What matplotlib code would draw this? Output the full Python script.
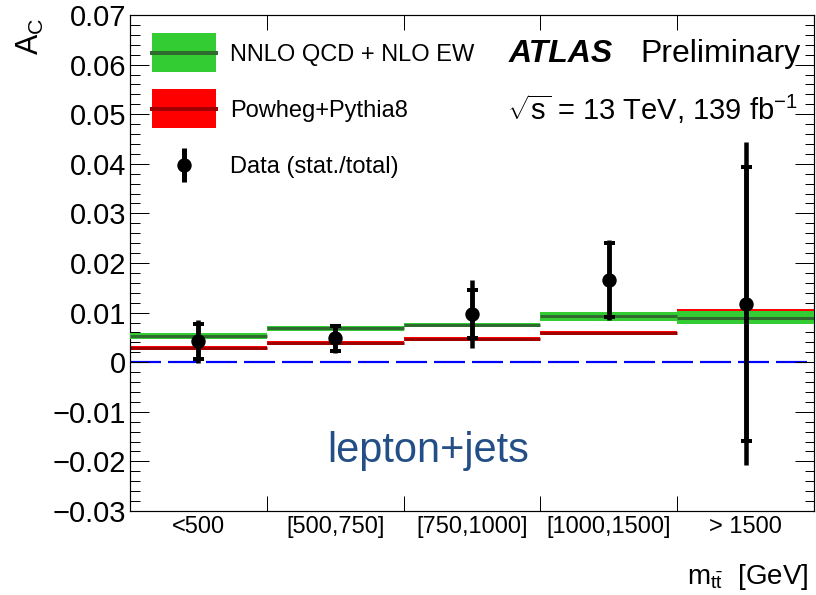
import numpy as np
import matplotlib
matplotlib.use("Agg")
import matplotlib.pyplot as plt
from matplotlib.patches import Rectangle
from matplotlib.lines import Line2D

plt.rcParams['font.family'] = ['Liberation Sans', 'DejaVu Sans']
plt.rcParams['mathtext.fontset'] = 'custom'
plt.rcParams['mathtext.rm'] = 'Liberation Sans'
plt.rcParams['mathtext.it'] = 'Liberation Sans:italic'
plt.rcParams['lines.scale_dashes'] = False

# ---- data ----
bin_labels = ["<500", "[500,750]", "[750,1000]", "[1000,1500]", "> 1500"]
nnlo_val = [0.0053, 0.0068, 0.0075, 0.0093, 0.0090]
nnlo_err = [0.0006, 0.0005, 0.0005, 0.0009, 0.0013]
powheg_val = [0.0028, 0.0038, 0.0046, 0.0058, 0.0102]
powheg_err = [0.0004, 0.0004, 0.0004, 0.0004, 0.0006]
data_val = [0.0042, 0.0048, 0.0097, 0.0166, 0.0118]
data_stat = [0.0035, 0.0025, 0.0049, 0.0074, 0.0276]
data_tot = [0.0044, 0.0030, 0.0068, 0.0080, 0.0326]
legend_labels = ["NNLO QCD + NLO EW", "Powheg+Pythia8", "Data (stat./total)"]

PX = 72.0 / 100.0  # points per pixel at dpi 100
W, H = 816, 595

fig = plt.figure(figsize=(W / 100, H / 100), dpi=100)
L, R, T, B = 130, 814, 15, 511
ax = fig.add_axes([L / W, 1 - B / H, (R - L) / W, (B - T) / H])

n = len(bin_labels)
edges = np.arange(n + 1)
centers = edges[:-1] + 0.5
nv, ne = np.array(nnlo_val), np.array(nnlo_err)
pv, pe = np.array(powheg_val), np.array(powheg_err)

green = '#33cc33'
dgreen = '#2f6b2f'
red = '#ff0000'
dred = '#a00000'

# Powheg band (below)
ax.stairs(pv + pe, edges, baseline=pv - pe, fill=True, color=red, zorder=2, lw=0)
ax.hlines(pv, edges[:-1], edges[1:], color=dred, lw=3.0 * PX, zorder=2.1)
# NNLO band
ax.stairs(nv + ne, edges, baseline=nv - ne, fill=True, color=green, zorder=3, lw=0)
ax.hlines(nv, edges[:-1], edges[1:], color=dgreen, lw=3.0 * PX, zorder=3.1)

# zero line
ax.axhline(0, color='#0000ff', lw=2.2 * PX, dashes=(31 * PX, 7 * PX), zorder=1)

# data: total (no caps) + stat (caps)
ax.errorbar(centers, data_val, yerr=data_tot, fmt='none', ecolor='black',
            elinewidth=4.5 * PX, capsize=0, zorder=5)
ax.errorbar(centers, data_val, yerr=data_stat, fmt='o', color='black',
            ms=13 * PX, elinewidth=4.5 * PX, capsize=5.5 * PX,
            capthick=4 * PX, zorder=6)

ax.set_xlim(0, n)
ax.set_ylim(-0.03, 0.07)

# ticks
ax.set_xticks(edges[1:-1])
ax.set_xticklabels([])
ax.set_xticks(centers, minor=True)
ax.set_xticklabels(bin_labels, minor=True, fontsize=17)
ax.tick_params(axis='x', which='major', direction='in', length=15 * PX, width=1 * PX,
               top=True, bottom=True)
ax.tick_params(axis='x', which='minor', length=0, pad=5 * PX)

yt = np.round(np.arange(-0.03, 0.0701, 0.01), 3)
ax.set_yticks(yt)
ax.set_yticklabels([("%.2f" % v).replace('-', '\u2212') if abs(v) > 1e-9 else "0" for v in yt],
                   fontsize=21)
ax.set_yticks(np.arange(-0.03, 0.0701, 0.002), minor=True)
ax.tick_params(axis='y', which='major', direction='in', length=19 * PX, width=1 * PX,
               left=True, right=True, pad=4 * PX)
ax.tick_params(axis='y', which='minor', direction='in', length=9.5 * PX, width=1 * PX,
               left=True, right=True)
for s in ax.spines.values():
    s.set_linewidth(1.2 * PX)

# ---- legend (drawn in figure pixel coordinates) ----
def fx(px):
    return px / W

def fy(py):
    return 1 - py / H

def band_key(y0, y1, face, line):
    fig.patches.append(Rectangle((fx(152), fy(y1)), fx(216) - fx(152), fy(y0) - fy(y1),
                                 transform=fig.transFigure, facecolor=face,
                                 edgecolor='none', zorder=10))
    ym = 0.5 * (y0 + y1)
    fig.lines.append(Line2D([fx(152), fx(216)], [fy(ym), fy(ym)], transform=fig.transFigure,
                            color=line, lw=4 * PX, zorder=11))

band_key(33, 72, green, dgreen)
band_key(89, 128, red, dred)
fig.lines.append(Line2D([fx(184), fx(184)], [fy(148), fy(182)], transform=fig.transFigure,
                        color='black', lw=5 * PX, solid_capstyle='butt', zorder=11))
fig.lines.append(Line2D([fx(184)], [fy(165)], transform=fig.transFigure, ls='none',
                        marker='o', ms=13 * PX, color='black', zorder=12))
for lab, base in zip(legend_labels, [61, 117, 173]):
    fig.text(fx(230), fy(base), lab, fontsize=17, ha='left', va='baseline')

# texts
fig.text(fx(509), fy(62), "ATLAS", fontsize=23, fontweight='bold', fontstyle='italic',
         ha='left', va='baseline')
fig.text(fx(640), fy(62), "Preliminary", fontsize=23, ha='left', va='baseline')
fig.text(fx(507), fy(120), r"$\sqrt{\mathregular{s}}$ = 13 TeV, 139 fb$^{\mathregular{-1}}$",
         fontsize=21, ha='left', va='baseline')
fig.text(fx(428), fy(462), "lepton+jets", fontsize=30, color='#234e86',
         ha='center', va='baseline')

fig.text(fx(30), fy(18), r"A$_\mathregular{C}$", fontsize=22, rotation=90,
         ha='center', va='top')
fig.text(fx(808), fy(584), r"m$_{\mathregular{t\bar{t}}}$  [GeV]", fontsize=20,
         ha='right', va='baseline')

fig.savefig("out.png", dpi=100)
